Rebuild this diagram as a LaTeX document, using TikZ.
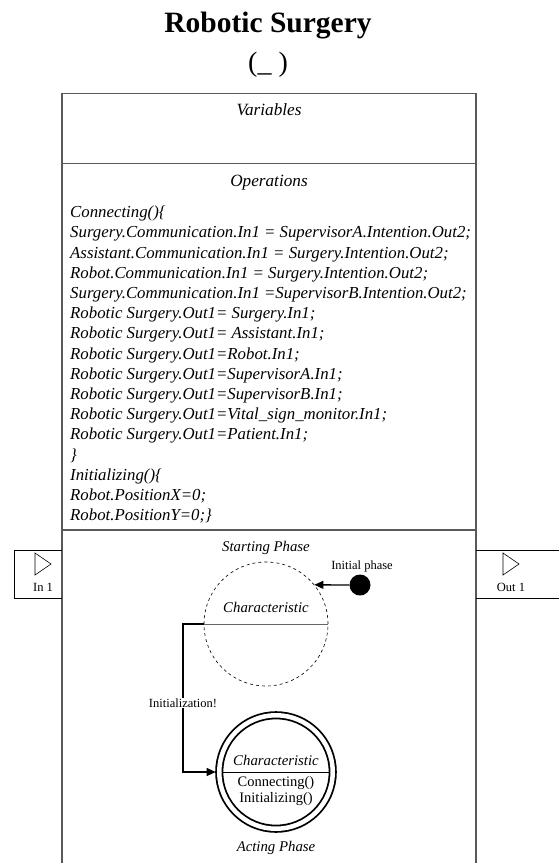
\documentclass[tikz,border=0pt]{standalone}
\usepackage{fontspec}
\setmainfont{Liberation Serif}
\usetikzlibrary{arrows.meta}

\tikzset{
  boxline/.style={draw=black!65, line width=1.3pt},
  portline/.style={draw=black, line width=0.6pt},
  headtext/.style={font=\fontsize{17.2}{20.2}\selectfont\itshape},
  codetext/.style={font=\fontsize{16.8}{20.2}\selectfont\itshape},
  phasetext/.style={font=\fontsize{14.8}{16}\selectfont\itshape},
  smalltext/.style={font=\fontsize{12.5}{14}\selectfont},
  conn/.style={line width=1.3pt, -{Triangle[length=9pt,width=8pt]}},
}

\begin{document}
\begin{tikzpicture}[x=1pt,y=1pt]
\useasboundingbox (0,0) rectangle (558,-863);
% title
\node[font=\fontsize{29.5}{34}\selectfont\bfseries, anchor=base] (title) at (268,-32) {Robotic Surgery};
\node[font=\fontsize{28}{34}\selectfont, anchor=base] (subtitle) at (268,-71) {(\_ )};
% block frame
\draw[boxline] (62,-875) -- (62,-93.3) -- (476,-93.3) -- (476,-875);
\draw[boxline] (62,-163.3) -- (476,-163.3);
\draw[boxline] (62,-530) -- (476,-530);
\node[headtext, anchor=base] (vars) at (269,-115) {Variables};
\node[headtext, anchor=base] (opers) at (269,-186) {Operations};
\node[codetext, anchor=north west, align=left, inner sep=0] (code) at (70,-205.9) {%
Connecting()\{\\
Surgery.Communication.In1 = SupervisorA.Intention.Out2;\\
Assistant.Communication.In1 = Surgery.Intention.Out2;\\
Robot.Communication.In1 = Surgery.Intention.Out2;\\
Surgery.Communication.In1 =SupervisorB.Intention.Out2;\\
Robotic Surgery.Out1= Surgery.In1;\\
Robotic Surgery.Out1= Assistant.In1;\\
Robotic Surgery.Out1=Robot.In1;\\
Robotic Surgery.Out1=SupervisorA.In1;\\
Robotic Surgery.Out1=SupervisorB.In1;\\
Robotic Surgery.Out1=Vital\_sign\_monitor.In1;\\
Robotic Surgery.Out1=Patient.In1;\\
\}\\
Initializing()\{\\
Robot.PositionX=0;\\
Robot.PositionY=0;\}};
% ports
\draw[portline] (62,-550) -- (14,-550) -- (14,-598) -- (62,-598);
\draw[portline] (35,-553) -- (51,-564) -- (35,-575) -- cycle;
\node[smalltext] (inlbl) at (43,-587) {In 1};
\draw[portline] (476,-550) -- (565,-550);
\draw[portline] (476,-598) -- (565,-598);
\draw[portline] (503,-553) -- (519,-564) -- (503,-575) -- cycle;
\node[smalltext] (outlbl) at (511,-587) {Out 1};
% starting phase
\node[circle, draw, dashed, line width=0.6pt, minimum size=124pt, inner sep=0] (start) at (266,-624) {};
\node[phasetext] (startlbl) at (266,-548) {Starting Phase};
\node[phasetext] (startchar) at (266,-607) {Characteristic};
\draw[black!60, line width=0.8pt] (start.west) -- (start.east);
\node[circle, fill=black, minimum size=21pt, inner sep=0] (init) at (360,-585) {};
\node[smalltext] (initlbl) at (362,-566) {Initial phase};
\draw[conn] (init.west) -- (start.39);
% acting phase
\node[circle, draw, double, line width=1.8pt, double distance=4.5pt, minimum size=113.5pt, inner sep=0, outer sep=3.6pt] (acting) at (276,-772) {};
\draw[line width=0.8pt] ([xshift=-53.6pt]acting.center) -- ([xshift=53.6pt]acting.center);
\node[phasetext] (actchar) at (276,-760) {Characteristic};
\node[font=\fontsize{14.5}{15.8}\selectfont, align=center] (actops) at (276,-791) {Connecting()\\Initializing()};
\node[phasetext] (actlbl) at (276,-848) {Acting Phase};
% transition
\coordinate (bend) at (183,-624);
\draw[conn] (start.west) -- (bend) |- (acting.west);
\node[smalltext, fill=white, inner sep=1pt] (initz) at (183,-703) {Initialization!};
\end{tikzpicture}
\end{document}
